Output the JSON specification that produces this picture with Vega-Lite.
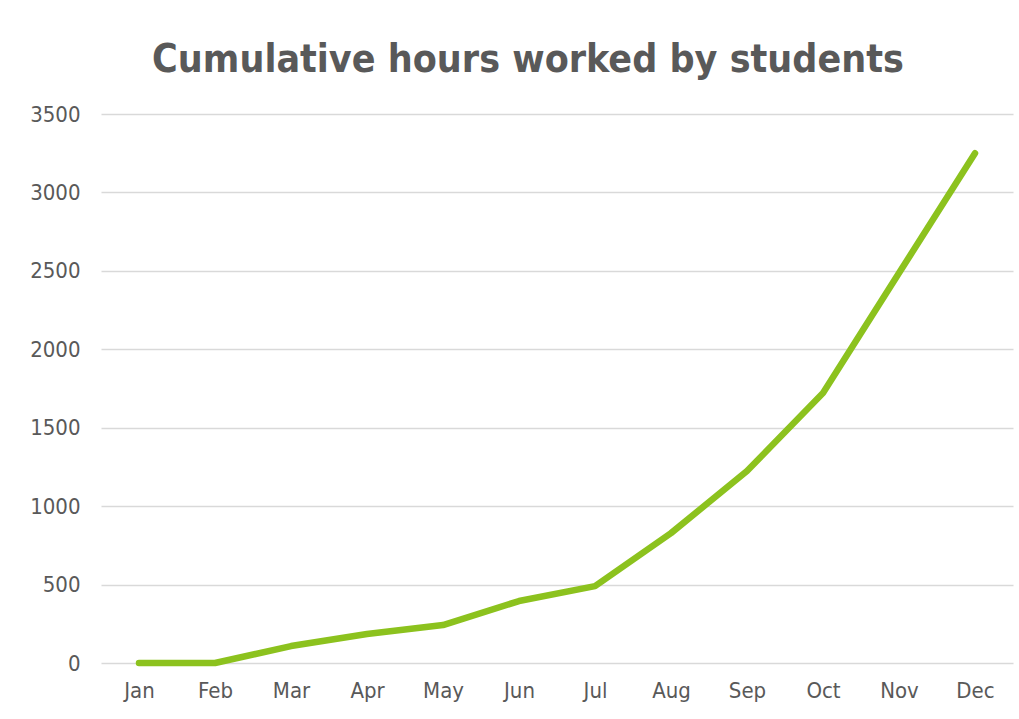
{
  "$schema": "https://vega.github.io/schema/vega-lite/v6.json",
  "width": 912,
  "height": 549,
  "autosize": {"type": "none"},
  "padding": {"left": 101, "top": 114, "right": 6, "bottom": 56},
  "background": "white",
  "title": {
    "text": "Cumulative hours worked by students",
    "font": "DejaVu Sans Condensed",
    "fontSize": 39,
    "fontWeight": "bold",
    "color": "#595959",
    "anchor": "middle",
    "frame": "group",
    "offset": 23,
    "dx": -29
  },
  "data": {
    "values": [
      {"month": "Jan", "hours": 0},
      {"month": "Feb", "hours": 0},
      {"month": "Mar", "hours": 108},
      {"month": "Apr", "hours": 185},
      {"month": "May", "hours": 242},
      {"month": "Jun", "hours": 395},
      {"month": "Jul", "hours": 490},
      {"month": "Aug", "hours": 828},
      {"month": "Sep", "hours": 1224},
      {"month": "Oct", "hours": 1721},
      {"month": "Nov", "hours": 2486},
      {"month": "Dec", "hours": 3250}
    ]
  },
  "mark": {"type": "line", "color": "#8CC21E", "strokeWidth": 6.5, "strokeCap": "round", "strokeJoin": "round"},
  "encoding": {
    "x": {
      "field": "month",
      "type": "ordinal",
      "sort": null,
      "scale": {"type": "point", "padding": 0.5},
      "axis": {
        "title": null,
        "labelAngle": 0,
        "labelFont": "DejaVu Sans Condensed",
        "labelFontSize": 22,
        "labelColor": "#595959",
        "labelPadding": 17,
        "ticks": false,
        "domain": false,
        "grid": false
      }
    },
    "y": {
      "field": "hours",
      "type": "quantitative",
      "scale": {"domain": [0, 3500], "nice": false},
      "axis": {
        "title": null,
        "format": "d",
        "values": [0, 500, 1000, 1500, 2000, 2500, 3000, 3500],
        "labelFont": "DejaVu Sans Condensed",
        "labelFontSize": 22,
        "labelColor": "#595959",
        "labelPadding": 21,
        "ticks": false,
        "domain": false,
        "grid": true,
        "gridColor": "#D9D9D9",
        "gridWidth": 1.5
      }
    }
  },
  "config": {"view": {"stroke": null}}
}
